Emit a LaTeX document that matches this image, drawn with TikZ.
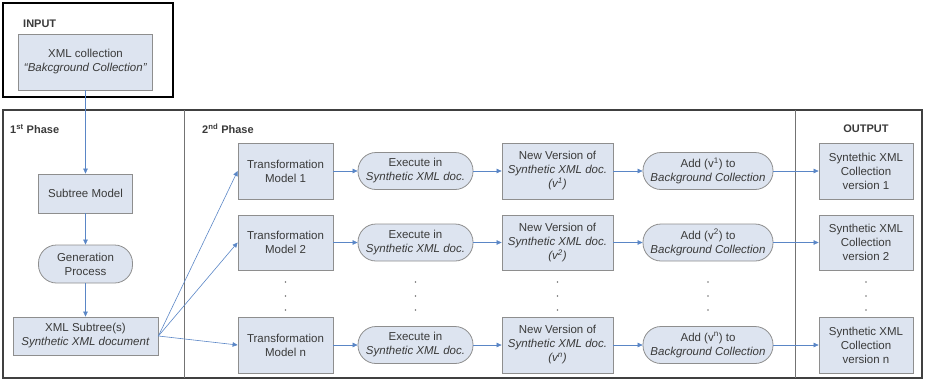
\documentclass[tikz,border=0pt]{standalone}
\usepackage{fontspec}
\setmainfont{Liberation Sans}
\usetikzlibrary{arrows.meta}
\definecolor{boxfill}{HTML}{DDE4F0}
\definecolor{boxline}{HTML}{8E8E8E}
\definecolor{txt}{HTML}{3A3A3A}
\definecolor{flow}{HTML}{5A86C6}
\tikzset{
  box/.style={draw=boxline, fill=boxfill, line width=0.8pt, text=txt, align=center,
    font=\fontsize{11.5}{14}\selectfont, inner sep=0pt},
  pill/.style={box, rounded corners=18pt},
  flowarrow/.style={draw=flow, line width=0.6pt, -{Triangle[length=5pt,width=4.5pt]}},
  head/.style={text=txt, font=\bfseries\fontsize{11}{13}\selectfont, inner sep=0pt},
  vdots/.style={circle, fill=txt!70, inner sep=0pt, minimum size=1.6pt},
}
\begin{document}
\begin{tikzpicture}[x=1pt,y=-1pt]
\useasboundingbox (0,0) rectangle (925,381);

% frames
\draw[black, line width=1.8pt] (3,3) rectangle (173,97);
\draw[black!75, line width=1.2pt] (3,110) rectangle (922,378);
\draw[black!55, line width=0.8pt] (184,110) -- (184,378);
\draw[black!55, line width=0.8pt] (795,110) -- (795,378);

% headings
\node[head, anchor=west] (hin) at (23,24) {INPUT};
\node[head, anchor=west] (hp1) at (10,129) {1\textsuperscript{st} Phase};
\node[head, anchor=west] (hp2) at (202,129) {2\textsuperscript{nd} Phase};
\node[head] (hout) at (866,129) {OUTPUT};

% input and first phase
\node[box, minimum width=134pt, minimum height=56pt] (in) at (85.5,62)
  {XML collection\\\textit{``Bakcground Collection''}};
\node[box, minimum width=94pt, minimum height=39pt] (sub) at (85.5,193.5) {Subtree Model};
\node[pill, minimum width=94pt, minimum height=38pt] (gen) at (85.5,264) {Generation\\Process};
\node[box, minimum width=145pt, minimum height=38pt] (xs) at (85.5,336)
  {XML Subtree(s)\\\textit{Synthetic XML document}};

% second phase rows and output
\foreach \r/\y/\h/\k/\w in {1/171/56/1/Syntethic, 2/242.5/55/2/Synthetic, n/345/56/n/Synthetic}{
  \node[box, minimum width=95pt, minimum height=\h pt] (t\r) at (285.5,\y)
    {Transformation\\Model \k};
  \node[pill, minimum width=115pt, minimum height=37pt] (e\r) at (415.5,\y)
    {Execute in\\\textit{Synthetic XML doc.}};
  \node[box, minimum width=111pt, minimum height=\h pt] (v\r) at (557.5,\y)
    {New Version of\\\textit{Synthetic XML doc.}\\\textit{(v\textsuperscript{\k})}};
  \node[pill, minimum width=130pt, minimum height=37pt] (a\r) at (708,\y)
    {Add (v\textsuperscript{\k}) to\\\textit{Background Collection}};
  \node[box, minimum width=94pt, minimum height=\h pt] (o\r) at (866,\y)
    {\w\ XML\\Collection\\version \k};
  \draw[flowarrow] (t\r) -- (e\r);
  \draw[flowarrow] (e\r) -- (v\r);
  \draw[flowarrow] (v\r) -- (a\r);
  \draw[flowarrow] (a\r) -- (o\r);
  \draw[flowarrow] (xs.east) -- (t\r.west);
}

% elision dots between row 2 and row n
\foreach \x [count=\i] in {285.5,415.5,557.5,708,866}{
  \foreach \yy [count=\j] in {282,296,310}{
    \node[vdots] (d\i\j) at (\x,\yy) {};
  }
}

% first phase flow
\draw[flowarrow] (in.south) -- (sub.north);
\draw[flowarrow] (sub) -- (gen);
\draw[flowarrow] (gen) -- (xs);
\end{tikzpicture}
\end{document}
